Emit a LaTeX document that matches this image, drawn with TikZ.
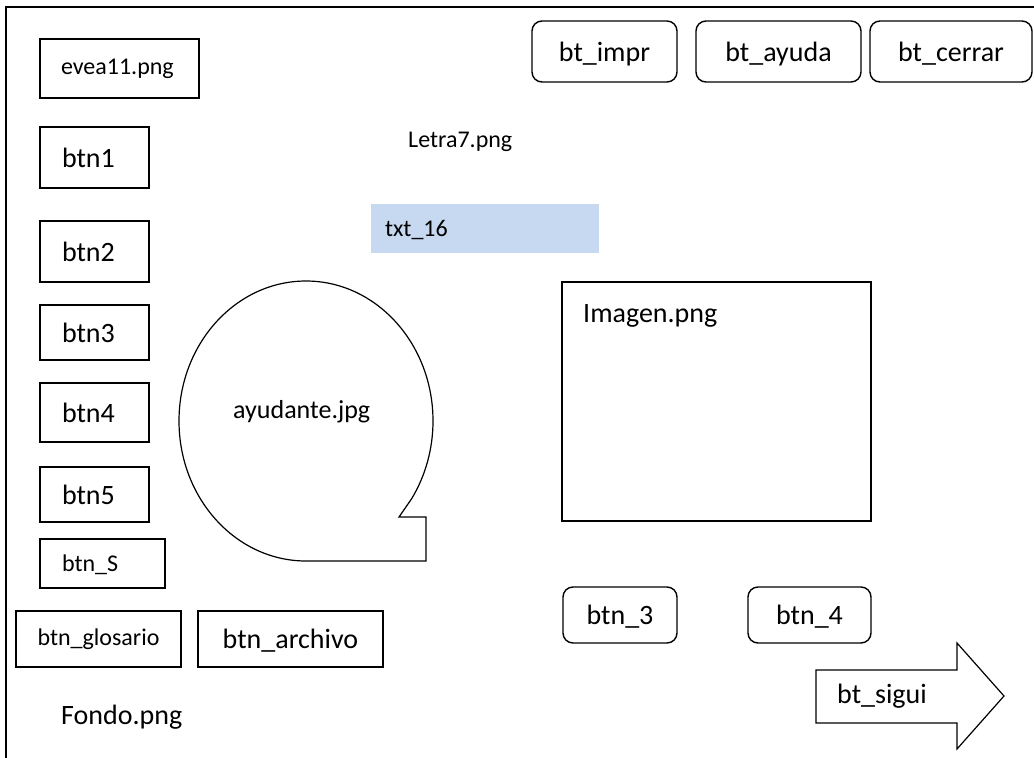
\documentclass[tikz,border=0pt]{standalone}
\usepackage{fontspec}
\setmainfont{Carlito}
\definecolor{txtblue}{RGB}{198,217,240}
\newcommand{\bigf}{\fontsize{28}{32}\selectfont}
\newcommand{\smallf}{\fontsize{24}{28}\selectfont}
\begin{document}
\begin{tikzpicture}[x=1pt,y=-1pt,
  box/.style={draw, line width=1.4pt, rectangle, inner ysep=0pt, font=\bigf, text depth=0pt},
  rbox/.style={box, rounded corners=10pt, align=center},
  lbox/.style={box, align=left},
  lbl/.style={inner sep=0pt, anchor=base west, font=\bigf}]
\useasboundingbox (0,0) rectangle (1034,758);
% outer frame
\draw[line width=1.4pt] (6,758) -- (6,7) -- (1034,7);

% left column
\node[lbox, font=\smallf, text depth=, inner xsep=21pt, text width=117pt, minimum height=59pt] (evea) at (119.5,68.5) {evea11.png};
\node[lbox, inner xsep=22pt, text width=65pt, minimum height=61pt] (btn1) at (94.5,157.5) {btn1};
\node[lbox, inner xsep=22pt, text width=65pt, minimum height=61pt] (btn2) at (94.5,251.5) {btn2};
\node[lbox, inner xsep=22pt, text width=65pt, minimum height=55pt] (btn3) at (94.5,332.5) {btn3};
\node[lbox, inner xsep=22pt, text width=65pt, minimum height=59pt] (btn4) at (94.5,412.5) {btn4};
\node[lbox, inner xsep=22pt, text width=65pt, minimum height=55pt] (btn5) at (94.5,494.5) {btn5};
\node[lbox, font=\smallf, inner xsep=22pt, text width=81pt, minimum height=49pt] (btnS) at (102.5,563.5) {btn\_S};
\node[box, font=\smallf, text depth=, inner xsep=0pt, minimum width=165pt, minimum height=56pt] (glosario) at (98.5,639) {btn\_glosario};
\node[box, inner xsep=0pt, minimum width=185pt, minimum height=56pt] (archivo) at (290.5,639) {btn\_archivo};
\node[lbl] (fondo) at (61,724) {Fondo.png};

% top buttons
\node[rbox, inner xsep=0pt, minimum width=145pt, minimum height=61pt] (impr) at (604.5,51.5) {bt\_impr};
\node[rbox, inner xsep=0pt, minimum width=165pt, minimum height=61pt] (ayuda) at (778.5,51.5) {bt\_ayuda};
\node[rbox, inner xsep=0pt, minimum width=162pt, minimum height=61pt] (cerrar) at (951,51.5) {bt\_cerrar};

% middle texts
\node[lbl, font=\smallf] (letra) at (408,147) {Letra7.png};
\node[rectangle, fill=txtblue, inner ysep=0pt, inner xsep=14pt, text width=200pt, text depth=0pt, align=left, minimum height=49pt, font=\smallf] (txt) at (485,228.5) {txt\_16};

% image box
\node[box, minimum width=309pt, minimum height=239pt] (imagen) at (716.5,401.5) {};
\node[lbl] (imagentxt) at (583,322) {Imagen.png};

% bottom buttons
\node[rbox, inner xsep=0pt, minimum width=114pt, minimum height=56pt] (b3) at (620,615) {btn\_3};
\node[rbox, inner xsep=0pt, minimum width=123pt, minimum height=56pt] (b4) at (809.5,615) {btn\_4};

% speech bubble (ayudante)
\draw[line width=1.2pt, line join=miter] (306,561) arc[start angle=90, end angle=393.8, x radius=127, y radius=140]
  -- (399,517) -- (426,517) -- (426,561) -- cycle;
\node[lbl, font=\fontsize{26}{30}\selectfont] (ayudante) at (233,418) {ayudante.jpg};

% bt_sigui arrow
\draw[line width=1.2pt, line join=miter] (816,670) -- (957,670) -- (957,643) -- (1004,696) -- (957,749) -- (957,723) -- (816,723) -- cycle;
\node[lbl] (sigui) at (837,703) {bt\_sigui};
\end{tikzpicture}
\end{document}
